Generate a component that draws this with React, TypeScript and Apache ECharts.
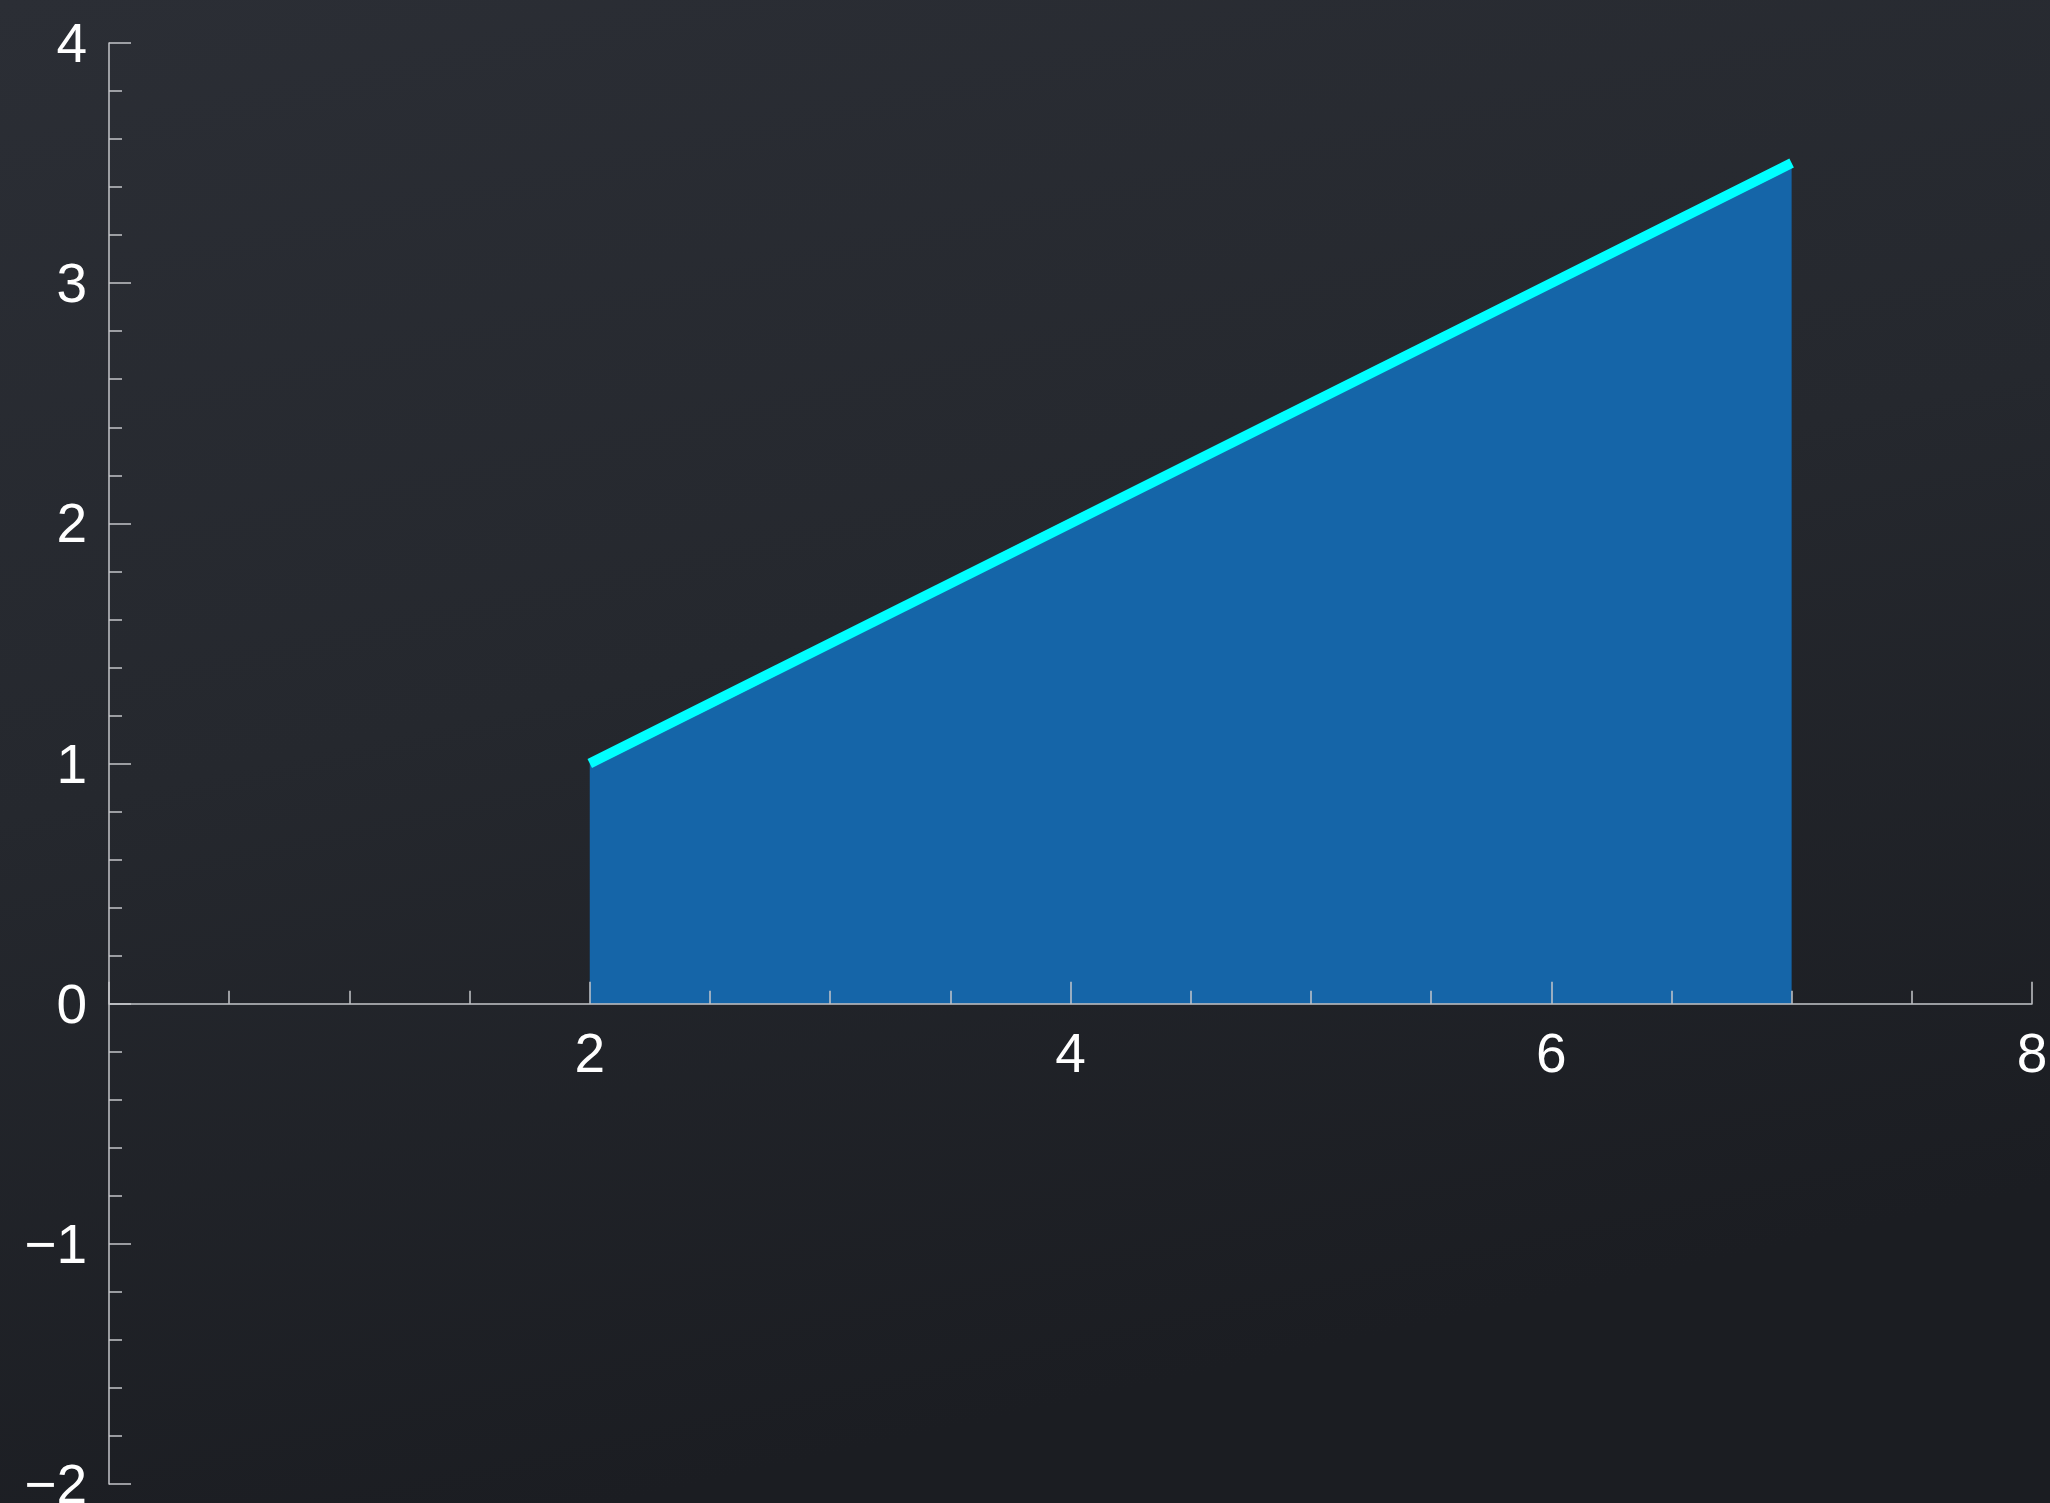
import React, { useEffect, useRef } from "react";
import * as echarts from "echarts";

const lineX: number[] = [2, 7];
const lineY: number[] = [1, 3.5];
const xTickLabels: string[] = ["", "2", "4", "6", "8"];
const yTickLabels: string[] = ["−2", "−1", "0", "1", "2", "3", "4"];

const AXIS_COLOR = "#c4c6ca";
const GRID_TOP = 43;
const GRID_BOTTOM = 19;
const CHART_H = 1503;
const Y_MIN = -2;
const Y_MAX = 4;

export default function App() {
  const ref = useRef<HTMLDivElement>(null);
  useEffect(() => {
    if (!ref.current) return;
    const chart = echarts.init(ref.current, undefined, { renderer: "svg" });
    const data = lineX.map((x, i) => [x, lineY[i]]);
    const plotH = CHART_H - GRID_TOP - GRID_BOTTOM;
    const zeroOffset = -(plotH * (0 - Y_MIN)) / (Y_MAX - Y_MIN);
    chart.setOption({
      animation: false,
      backgroundColor: {
        type: "linear",
        x: 0,
        y: 0,
        x2: 0.3,
        y2: 1,
        colorStops: [
          { offset: 0, color: "#2b2e35" },
          { offset: 0.5, color: "#25282e" },
          { offset: 1, color: "#1b1d22" },
        ],
      },
      grid: {
        left: 109,
        right: 18,
        top: GRID_TOP,
        bottom: GRID_BOTTOM,
        containLabel: false,
        outerBoundsMode: "none",
      },
      xAxis: {
        type: "value",
        min: 0,
        max: 8,
        interval: 2,
        z: 10,
        position: "bottom",
        offset: zeroOffset,
        axisLine: { show: true, onZero: false, lineStyle: { color: AXIS_COLOR, width: 1.5 } },
        axisTick: { show: true, inside: true, length: 22, lineStyle: { color: AXIS_COLOR, width: 1.5 } },
        minorTick: { show: true, splitNumber: 4, length: 13, lineStyle: { color: AXIS_COLOR, width: 1.5 } },
        splitLine: { show: false },
        axisLabel: {
          color: "#ffffff",
          fontSize: 55,
          fontFamily: "Liberation Sans, Arial, sans-serif",
          margin: 22,
          formatter: (v: number) => xTickLabels[Math.round(v / 2)] ?? "",
        },
      },
      yAxis: {
        type: "value",
        min: Y_MIN,
        max: Y_MAX,
        interval: 1,
        z: 10,
        axisLine: { show: true, onZero: false, lineStyle: { color: AXIS_COLOR, width: 1.5 } },
        axisTick: { show: true, inside: true, length: 22, lineStyle: { color: AXIS_COLOR, width: 1.5 } },
        minorTick: { show: true, splitNumber: 5, length: 13, lineStyle: { color: AXIS_COLOR, width: 1.5 } },
        splitLine: { show: false },
        axisLabel: {
          color: "#ffffff",
          fontSize: 55,
          fontFamily: "Liberation Sans, Arial, sans-serif",
          margin: 22,
          formatter: (v: number) => yTickLabels[Math.round(v - Y_MIN)] ?? "",
        },
      },
      series: [
        {
          type: "line",
          data,
          symbol: "none",
          z: 2,
          lineStyle: { color: "#00ffff", width: 10, cap: "butt" },
          areaStyle: { color: "#1565a8", opacity: 1 },
        },
      ],
    });
    return () => chart.dispose();
  }, []);
  return (
    <div
      ref={ref}
      style={{ position: "fixed", left: 0, top: 0, width: 2050, height: 1503 }}
    />
  );
}
